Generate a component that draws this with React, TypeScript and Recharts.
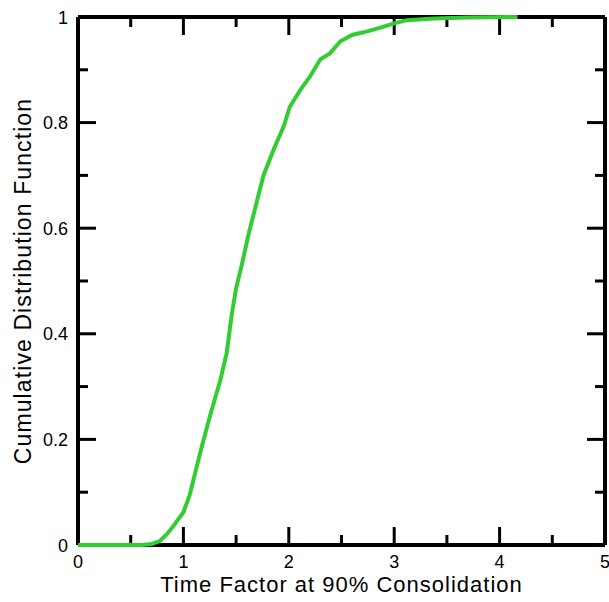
import { LineChart, Line, XAxis, YAxis } from "recharts"

// time factor at 90% consolidation vs cumulative probability
const timeFactor = [
  0, 0.3, 0.6, 0.7, 0.78, 0.85, 0.92, 1.0, 1.06, 1.16, 1.25, 1.35, 1.41, 1.46, 1.5,
  1.55, 1.62, 1.7, 1.76, 1.86, 1.95, 2.01, 2.06, 2.12, 2.2, 2.3, 2.39, 2.49, 2.6,
  2.71, 2.87, 3.0, 3.12, 3.38, 3.7, 4.17
]
const cdf = [
  0, 0, 0, 0.002, 0.008, 0.022, 0.04, 0.062, 0.095, 0.175, 0.243, 0.312, 0.363,
  0.438, 0.486, 0.527, 0.59, 0.653, 0.7, 0.751, 0.792, 0.83, 0.846, 0.865, 0.887,
  0.92, 0.931, 0.954, 0.966, 0.971, 0.98, 0.988, 0.994, 0.997, 0.999, 1.0
]

const xTicks = [0, 0.5, 1, 1.5, 2, 2.5, 3, 3.5, 4, 4.5, 5]
const yTicks = [0, 0.1, 0.2, 0.3, 0.4, 0.5, 0.6, 0.7, 0.8, 0.9, 1]
const xMajor = [0, 1, 2, 3, 4, 5]
const yMajor = [0, 0.2, 0.4, 0.6, 0.8, 1]

const data = timeFactor.map((t, i) => ({ t, p: cdf[i] }))

const FONT = "'Liberation Sans', Arial, Helvetica, sans-serif"
const MAJOR = 18
const MINOR = 10

const isMajor = (v: number, list: number[]) => list.some((m) => Math.abs(m - v) < 1e-6)

const BottomTick = (props: any) => {
  const { x, y, payload } = props
  const major = isMajor(payload.value, xMajor)
  return (
    <g>
      <line x1={x} x2={x} y1={y} y2={y - (major ? MAJOR : MINOR)} stroke="#000" strokeWidth={3} />
      {major && (
        <text x={x} y={y + 23} textAnchor="middle" fontSize={18} fontFamily={FONT} fill="#000">
          {payload.value}
        </text>
      )}
    </g>
  )
}

const TopTick = (props: any) => {
  const { x, y, payload } = props
  const major = isMajor(payload.value, xMajor)
  return <line x1={x} x2={x} y1={y} y2={y + (major ? MAJOR : MINOR)} stroke="#000" strokeWidth={3} />
}

const LeftTick = (props: any) => {
  const { x, y, payload } = props
  const major = isMajor(payload.value, yMajor)
  return (
    <g>
      <line x1={x} x2={x + (major ? MAJOR : MINOR)} y1={y} y2={y} stroke="#000" strokeWidth={3} />
      {major && (
        <text x={x - 10} y={y + 6.5} textAnchor="end" fontSize={18} fontFamily={FONT} fill="#000">
          {payload.value}
        </text>
      )}
    </g>
  )
}

const RightTick = (props: any) => {
  const { x, y, payload } = props
  const major = isMajor(payload.value, yMajor)
  return <line x1={x} x2={x - (major ? MAJOR : MINOR)} y1={y} y2={y} stroke="#000" strokeWidth={3} />
}

const XTitle = (props: any) => {
  const { viewBox } = props
  return (
    <text
      x={viewBox.x + viewBox.width / 2}
      y={592}
      textAnchor="middle"
      fontSize={22}
      letterSpacing={1}
      fontFamily={FONT}
      fill="#000"
    >
      Time Factor at 90% Consolidation
    </text>
  )
}

const YTitle = () => {
  const cy = 281
  return (
    <text
      x={31}
      y={cy}
      transform={`rotate(-90, 31, ${cy})`}
      textAnchor="middle"
      fontSize={23}
      letterSpacing={1.1}
      fontFamily={FONT}
      fill="#000"
    >
      Cumulative Distribution Function
    </text>
  )
}

const axisLine = { stroke: "#000", strokeWidth: 4 }

export default function App() {
  return (
    <div style={{ position: "absolute", left: 0, top: 0, background: "#fff" }}>
      <LineChart
        width={609}
        height={602}
        data={data}
        margin={{ top: 0, right: 0, bottom: 0, left: 0 }}
      >
        <XAxis
          dataKey="t"
          type="number"
          domain={[0, 5]}
          ticks={xTicks}
          interval={0}
          height={57}
          tickSize={0}
          tickMargin={0}
          tickLine={false}
          axisLine={axisLine}
          tick={<BottomTick />}
          label={{ content: <XTitle /> }}
        />
        <XAxis
          xAxisId="top"
          orientation="top"
          dataKey="t"
          type="number"
          domain={[0, 5]}
          allowDataOverflow
          ticks={xTicks}
          interval={0}
          height={17}
          tickSize={0}
          tickMargin={0}
          tickLine={false}
          axisLine={axisLine}
          tick={<TopTick />}
        />
        <YAxis
          type="number"
          domain={[0, 1]}
          ticks={yTicks}
          interval={0}
          width={78}
          tickSize={0}
          tickMargin={0}
          tickLine={false}
          axisLine={axisLine}
          tick={<LeftTick />}
          label={{ content: <YTitle /> }}
        />
        <YAxis
          yAxisId="right"
          orientation="right"
          dataKey="p"
          type="number"
          domain={[0, 1]}
          allowDataOverflow
          ticks={yTicks}
          interval={0}
          width={4}
          tickSize={0}
          tickMargin={0}
          tickLine={false}
          axisLine={axisLine}
          tick={<RightTick />}
        />
        <Line
          type="linear"
          dataKey="p"
          stroke="#33cc33"
          strokeWidth={4}
          dot={false}
          zIndex={3000}
          isAnimationActive={false}
        />
      </LineChart>
    </div>
  )
}
